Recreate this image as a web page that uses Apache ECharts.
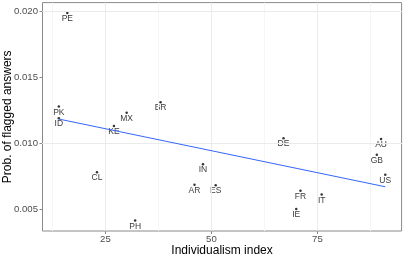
<!DOCTYPE html>
<html>
<head>
<meta charset="utf-8">
<script src="https://cdn.jsdelivr.net/npm/echarts@6/dist/echarts.min.js"></script>
<style>
html,body{margin:0;padding:0;background:#fff;}
#c{width:403px;height:256px;}
</style>
</head>
<body>
<div id="c"></div>
<script>
// Data
var countries = ['PE','PK','ID','MX','BR','KE','CL','PH','IN','AR','ES','DE','AU','GB','US','FR','IT','IE'];
var individualism = [16, 14, 14, 30, 38, 27, 23, 32, 48, 46, 51, 67, 90, 89, 91, 71, 76, 70];
var flaggedProb = [0.0199, 0.01278, 0.0119, 0.01232, 0.01311, 0.01131, 0.00779, 0.00411, 0.0084, 0.00683, 0.0068, 0.01038, 0.01032, 0.00911, 0.00759, 0.00639, 0.00609, 0.0050];

var xTicks = [25, 50, 75];
var xMinorTicks = [12.5, 37.5, 62.5, 87.5];
var yTicks = [0.005, 0.010, 0.015, 0.020];
var yMinorTicks = [0.0075, 0.0125, 0.0175];

var xRange = [10.15, 94.85];
var yRange = [0.00332, 0.02069];

// least-squares fit (geom_smooth method = lm, se = FALSE)
function fitLine(xs, ys) {
  var n = xs.length, mx = 0, my = 0;
  for (var i = 0; i < n; i++) { mx += xs[i]; my += ys[i]; }
  mx /= n; my /= n;
  var sxy = 0, sxx = 0;
  for (var j = 0; j < n; j++) { sxy += (xs[j]-mx)*(ys[j]-my); sxx += (xs[j]-mx)*(xs[j]-mx); }
  var b = sxy / sxx, a = my - b * mx;
  var x0 = Math.min.apply(null, xs), x1 = Math.max.apply(null, xs);
  return [[x0, a + b*x0], [x1, a + b*x1]];
}
var fit = fitLine(individualism, flaggedProb);

var points = countries.map(function (c, i) { return { name: c, value: [individualism[i], flaggedProb[i]] }; });

var gridLines = [];
xMinorTicks.forEach(function (v) { gridLines.push({ xAxis: v, lineStyle: { color: '#f5f5f5' } }); });
yMinorTicks.forEach(function (v) { gridLines.push({ yAxis: v, lineStyle: { color: '#f5f5f5' } }); });
xTicks.forEach(function (v) { gridLines.push({ xAxis: v, lineStyle: { color: '#ebebeb' } }); });
yTicks.forEach(function (v) { gridLines.push({ yAxis: v, lineStyle: { color: '#ebebeb' } }); });

var FONT = 'Liberation Sans, Arial, Helvetica, sans-serif';
var chart = echarts.init(document.getElementById('c'), null, { renderer: 'canvas' });
chart.setOption({
  animation: false,
  backgroundColor: '#ffffff',
  grid: {
    left: 42.5, right: 1.4, top: 2.6, bottom: 25,
    containLabel: false, outerBoundsMode: 'none',
    show: true, borderColor: '#8a8a8a', borderWidth: 1, backgroundColor: 'transparent'
  },
  xAxis: {
    type: 'value', min: xRange[0], max: xRange[1],
    name: 'Individualism index', nameLocation: 'middle', nameGap: 14, nameMoveOverlap: false,
    nameTextStyle: { fontFamily: FONT, fontSize: 12, color: '#000' },
    axisLine: { show: false },
    axisTick: { show: true, customValues: xTicks, length: 3, lineStyle: { color: '#8a8a8a' } },
    axisLabel: { customValues: xTicks, margin: 3, fontFamily: FONT, fontSize: 9.6, color: '#4d4d4d' },
    splitLine: { show: false }
  },
  yAxis: {
    type: 'value', min: yRange[0], max: yRange[1],
    name: 'Prob. of flagged answers', nameLocation: 'middle', nameGap: 29, nameMoveOverlap: false,
    nameTextStyle: { fontFamily: FONT, fontSize: 12, color: '#000' },
    axisLine: { show: false },
    axisTick: { show: true, customValues: yTicks, length: 3, lineStyle: { color: '#8a8a8a' } },
    axisLabel: { customValues: yTicks, margin: 4.5, fontFamily: FONT, fontSize: 9.6, color: '#4d4d4d',
      formatter: function (v) { return v.toFixed(3); } },
    splitLine: { show: false }
  },
  series: [
    {
      type: 'scatter', z: 1, silent: true, data: [],
      markLine: { silent: true, symbol: 'none', animation: false, label: { show: false },
        lineStyle: { type: 'solid', width: 1 }, emphasis: { disabled: true }, data: gridLines }
    },
    {
      type: 'scatter', z: 3, silent: true, data: [],
      markLine: { silent: true, symbol: 'none', animation: false, label: { show: false },
        lineStyle: { type: 'solid', width: 1, color: '#3366FF' }, emphasis: { disabled: true },
        data: [[{ coord: fit[0] }, { coord: fit[1] }]] }
    },
    {
      type: 'scatter', z: 4, silent: true,
      symbol: 'circle', symbolSize: 2.5,
      itemStyle: { color: '#000' },
      data: points,
      label: { show: true, position: 'bottom', distance: 0, formatter: '{b}',
        fontFamily: FONT, fontSize: 8.5, color: '#000' }
    }
  ]
});
</script>
</body>
</html>
